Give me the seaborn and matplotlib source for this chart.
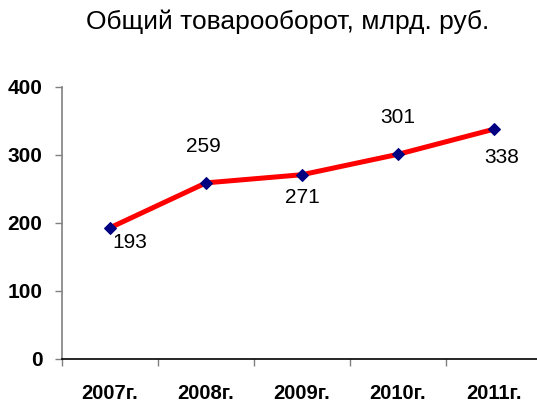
import matplotlib
matplotlib.use("Agg")
import matplotlib.pyplot as plt
import seaborn as sns
import pandas as pd

# data
years = ["2007г.", "2008г.", "2009г.", "2010г.", "2011г."]
turnover = [193, 259, 271, 301, 338]
y_ticks = [0, 100, 200, 300, 400]

# label offsets (pixels) relative to each point
label_dx = [20, -3, 0, 0, 8]
label_dy = [-15, 36, -23, 37, -28]

df = pd.DataFrame({"year": years, "value": turnover})

sns.set_theme(style="white")
plt.rcParams["font.family"] = ["Liberation Sans", "DejaVu Sans"]

fig = plt.figure(figsize=(5.37, 4.08), dpi=100)
ax = fig.add_axes([62 / 537, 49 / 408, 480 / 537, 272 / 408])

sns.lineplot(data=df, x="year", y="value", ax=ax, color="#ff0000",
             linewidth=3.6, marker="D", markersize=6.5,
             markerfacecolor="#000080", markeredgecolor="#000080",
             sort=False)

for i, (v, dx, dy) in enumerate(zip(turnover, label_dx, label_dy)):
    ax.annotate(str(v), (i, v), xytext=(dx, dy), textcoords="offset pixels",
                ha="center", va="center", fontsize=15, color="black")

ax.set_xlim(-0.5, len(years) - 0.5)
ax.set_ylim(0, 400)
ax.set_yticks(y_ticks)
ax.set_xticks(range(len(years)))
ax.set_xticklabels(years)
ax.set_xticks([i - 0.5 for i in range(len(years) + 1)], minor=True)
ax.set_xlabel("")
ax.set_ylabel("")

for lab in ax.get_xticklabels():
    lab.set_fontweight("bold")
    lab.set_fontsize(14.5)
    lab.set_color("black")
for lab in ax.get_yticklabels():
    lab.set_fontweight("bold")
    lab.set_fontsize(15)
    lab.set_color("black")

ax.tick_params(axis="x", which="major", length=0, pad=18)
ax.tick_params(axis="x", which="minor", length=5, width=1, color="#808080",
               direction="out", bottom=True)
ax.tick_params(axis="y", length=5, width=1, color="#808080",
               direction="out", left=True, pad=9)

for side in ["top", "right"]:
    ax.spines[side].set_visible(False)
ax.spines["left"].set_color("#808080")
ax.spines["left"].set_linewidth(1.2)
ax.spines["bottom"].set_color("black")
ax.spines["bottom"].set_linewidth(1.2)
ax.grid(False)

fig.text(288 / 537, 1 - 22 / 408, "Общий товарооборот, млрд. руб.",
         ha="center", va="center", fontsize=19, color="black")

fig.savefig("out.png", dpi=100)
